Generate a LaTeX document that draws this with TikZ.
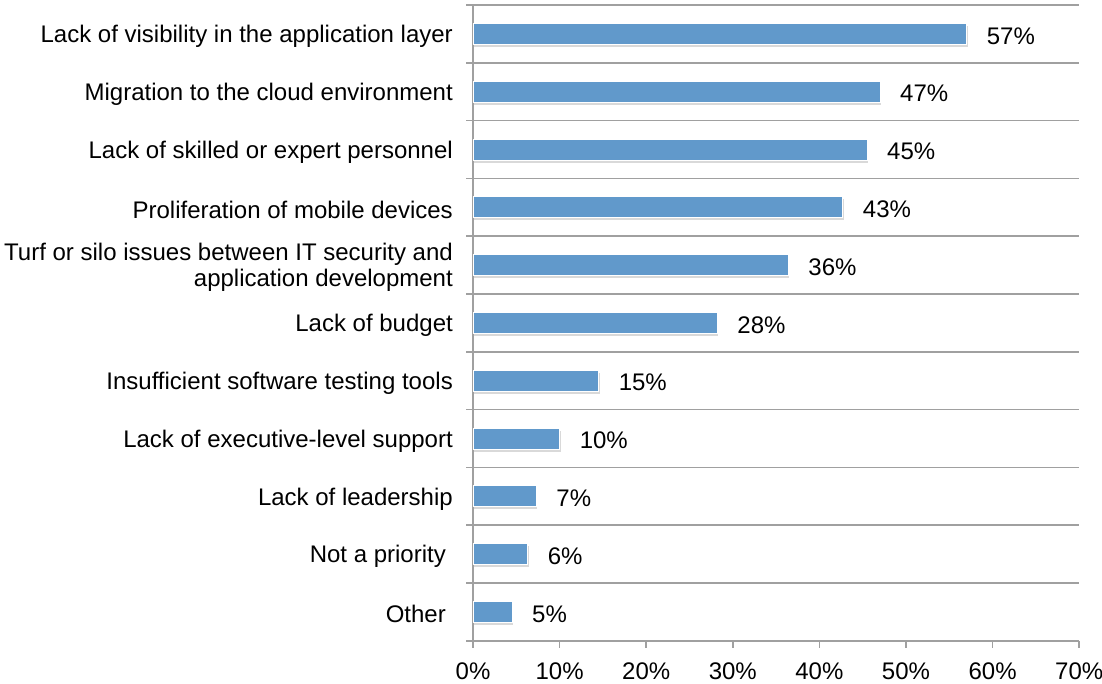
\documentclass[tikz,border=0pt]{standalone}
\usepackage{fontspec}
\setmainfont{Liberation Sans}
\usetikzlibrary{shadows}
\definecolor{barblue}{HTML}{6199CB}
\definecolor{gridgray}{HTML}{A0A0A0}
\tikzset{
	bar/.style={fill=barblue, draw=white, line width=0.8pt,
		drop shadow={shadow xshift=1pt, shadow yshift=-2.5pt, opacity=0.3}},
	cat/.style={anchor=east, align=right, inner sep=0pt, yshift=-2.5pt, font=\fontsize{24}{26}\selectfont},
	val/.style={anchor=west, inner sep=0pt, yshift=-2pt, font=\fontsize{24}{26}\selectfont},
	tick label/.style={anchor=base, inner sep=0pt, font=\fontsize{24}{26}\selectfont},
	grid line/.style={gridgray, line width=1.5pt},
}

\begin{document}
\begin{tikzpicture}[x=1pt, y=-1pt]
\useasboundingbox (0,0) rectangle (1102,683);
% grid lines between the rows
\foreach \k in {0,...,11}
	\draw[grid line] (466,{5+57.8*\k}) -- (1079,{5+57.8*\k});
\draw[grid line] (473,5) -- (473,641);
% ticks and labels of the axis
\foreach \p in {0,10,...,70}{
	\draw[grid line] ({473+8.66*\p},641) -- ({473+8.66*\p},648);
	\node[tick label] (t\p) at ({473+8.66*\p},679) {\p\%};
}
% the bars
\draw[bar] (473,23.4) rectangle ({473+8.66*57},44.4);
\node[val] (v1) at ({493+8.66*57},33.9) {57\%};
\node[cat] (c1) at (453,33.9) {Lack of visibility in the application layer};
\draw[bar] (473,81.2) rectangle ({473+8.66*47},102.2);
\node[val] (v2) at ({493+8.66*47},91.7) {47\%};
\node[cat] (c2) at (453,91.7) {Migration to the cloud environment};
\draw[bar] (473,139) rectangle ({473+8.66*45.5},160);
\node[val] (v3) at ({493+8.66*45.5},149.5) {45\%};
\node[cat] (c3) at (453,149.5) {Lack of skilled or expert personnel};
\draw[bar] (473,196.8) rectangle ({473+8.66*42.7},217.8);
\node[val] (v4) at ({493+8.66*42.7},207.3) {43\%};
\node[cat] (c4) at (453,207.3) {Proliferation of mobile devices};
\draw[bar] (473,254.6) rectangle ({473+8.66*36.4},275.6);
\node[val] (v5) at ({493+8.66*36.4},265.1) {36\%};
\node[cat] (c5) at (453,265.1) {Turf or silo issues between IT security and\\application development};
\draw[bar] (473,312.4) rectangle ({473+8.66*28.2},333.4);
\node[val] (v6) at ({493+8.66*28.2},322.9) {28\%};
\node[cat] (c6) at (453,322.9) {Lack of budget};
\draw[bar] (473,370.2) rectangle ({473+8.66*14.5},391.2);
\node[val] (v7) at ({493+8.66*14.5},380.7) {15\%};
\node[cat] (c7) at (453,380.7) {Insufficient software testing tools};
\draw[bar] (473,428) rectangle ({473+8.66*10},449);
\node[val] (v8) at ({493+8.66*10},438.5) {10\%};
\node[cat] (c8) at (453,438.5) {Lack of executive-level support};
\draw[bar] (473,485.8) rectangle ({473+8.66*7.3},506.8);
\node[val] (v9) at ({493+8.66*7.3},496.3) {7\%};
\node[cat] (c9) at (453,496.3) {Lack of leadership};
\draw[bar] (473,543.6) rectangle ({473+8.66*6.3},564.6);
\node[val] (v10) at ({493+8.66*6.3},554.1) {6\%};
\node[cat] (c10) at (446,554.1) {Not a priority};
\draw[bar] (473,601.4) rectangle ({473+8.66*4.5},622.4);
\node[val] (v11) at ({493+8.66*4.5},611.9) {5\%};
\node[cat] (c11) at (446,611.9) {Other};
\end{tikzpicture}
\end{document}
